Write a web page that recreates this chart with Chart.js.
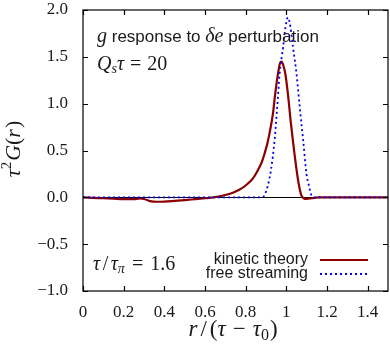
<!DOCTYPE html>
<html>
<head>
<meta charset="utf-8">
<script src="https://cdn.jsdelivr.net/npm/chart.js@4/dist/chart.umd.min.js"></script>
<style>
  html, body { margin: 0; padding: 0; background: #fff; }
  #wrap { width: 390px; height: 345px; }
</style>
</head>
<body>
<div id="wrap"><canvas id="chart" width="390" height="345"></canvas></div>
<script>
// kinetic theory curve
const kinX = [0, 0.05, 0.1, 0.15, 0.2, 0.25, 0.28, 0.3, 0.33, 0.36, 0.4, 0.45, 0.5, 0.55, 0.6, 0.643, 0.7, 0.743, 0.78, 0.81, 0.835, 0.86, 0.88, 0.892, 0.905, 0.917, 0.934, 0.945, 0.959, 0.97, 0.977, 0.985, 0.995, 1.008, 1.021, 1.038, 1.058, 1.074, 1.087, 1.099, 1.125, 1.157, 1.3, 1.5];
const kinY = [0, -0.005, -0.01, -0.015, -0.02, -0.02, -0.012, -0.018, -0.04, -0.047, -0.045, -0.038, -0.03, -0.02, -0.01, 0, 0.025, 0.055, 0.095, 0.145, 0.2, 0.29, 0.38, 0.46, 0.56, 0.68, 0.89, 1.1, 1.32, 1.44, 1.45, 1.41, 1.32, 1.1, 0.82, 0.5, 0.18, 0.02, -0.012, -0.017, -0.01, 0, 0, 0];

// free streaming curve
const freeX = [0, 0.2, 0.4, 0.6, 0.8, 0.88, 0.892, 0.909, 0.925, 0.942, 0.955, 0.967, 0.984, 0.996, 1.008, 1.02, 1.033, 1.05, 1.066, 1.083, 1.099, 1.111, 1.124, 1.14, 1.3, 1.5];
const freeY = [0, 0, 0, 0, 0, 0, 0.02, 0.125, 0.3, 0.605, 0.96, 1.32, 1.6, 1.82, 1.92, 1.82, 1.6, 1.32, 0.96, 0.605, 0.25, 0.125, 0.02, 0, 0, 0];

const xTicks = [0, 0.2, 0.4, 0.6, 0.8, 1, 1.2, 1.4];
const yTicks = [-1, -0.5, 0, 0.5, 1, 1.5, 2];

const SERIF = "'Liberation Serif', serif";
const SANS = "'Liberation Sans', sans-serif";
const TXT = '#1a1a1a';

function pts(xs, ys) {
  return xs.map((x, i) => ({ x: x, y: ys[i] }));
}

// draws a run of text pieces with their own fonts; {g: n} is a gap in px
function rich(ctx, parts, x, y, align) {
  let w = 0;
  parts.forEach(p => {
    if (p.g) { w += p.g; return; }
    ctx.font = p.f; w += ctx.measureText(p.t).width;
  });
  let cx = align === 'right' ? x - w : align === 'center' ? x - w / 2 : x;
  ctx.textAlign = 'left';
  ctx.textBaseline = 'alphabetic';
  parts.forEach(p => {
    if (p.g) { cx += p.g; return; }
    ctx.font = p.f;
    ctx.fillText(p.t, cx, y + (p.dy || 0));
    cx += ctx.measureText(p.t).width;
  });
}

const it = s => 'italic ' + s + 'px ' + SERIF;
const rm = s => s + 'px ' + SERIF;
const sf = s => s + 'px ' + SANS;

// keep tick label overflow from pushing the plot box in
function noPad(s) {
  s.paddingTop = 0; s.paddingBottom = 0; s.paddingLeft = 0; s.paddingRight = 0;
}

const decor = {
  id: 'decor',
  beforeDatasetsDraw(c) {
    const { ctx, chartArea: a, scales } = c;
    const y0 = scales.y.getPixelForValue(0);
    ctx.save();
    ctx.strokeStyle = '#000';
    ctx.lineWidth = 1;
    ctx.beginPath();
    ctx.moveTo(a.left, Math.round(y0) + 0.5);
    ctx.lineTo(a.right, Math.round(y0) + 0.5);
    ctx.stroke();
    ctx.restore();
  },
  afterDraw(c) {
    const { ctx, chartArea: a, scales } = c;
    ctx.save();
    ctx.strokeStyle = '#000';
    ctx.lineWidth = 1.2;
    ctx.strokeRect(a.left, a.top, a.right - a.left, a.bottom - a.top);
    const tl = 5;
    ctx.beginPath();
    xTicks.forEach(v => {
      const px = Math.round(scales.x.getPixelForValue(v)) + 0.5;
      ctx.moveTo(px, a.bottom); ctx.lineTo(px, a.bottom - tl);
      ctx.moveTo(px, a.top); ctx.lineTo(px, a.top + tl);
    });
    yTicks.forEach(v => {
      const py = Math.round(scales.y.getPixelForValue(v)) + 0.5;
      ctx.moveTo(a.left, py); ctx.lineTo(a.left + tl, py);
      ctx.moveTo(a.right, py); ctx.lineTo(a.right - tl, py);
    });
    ctx.stroke();

    ctx.fillStyle = TXT;
    // axis titles
    rich(ctx, [
      { t: 'r', f: it(23) }, { g: 3 }, { t: '/', f: rm(23) }, { g: 3 }, { t: '(', f: rm(23) }, { t: 'τ', f: it(23) },
      { g: 7 }, { t: '−', f: rm(23) }, { g: 7 }, { t: 'τ', f: it(23) }, { t: '0', f: rm(16), dy: 4 },
      { g: 1 }, { t: ')', f: rm(23) }
    ], 233, 336, 'center');

    ctx.save();
    ctx.translate(20, 149);
    ctx.rotate(-Math.PI / 2);
    rich(ctx, [
      { t: 'τ', f: it(22) }, { t: '2', f: rm(15), dy: -9 }, { g: 1 }, { t: 'G', f: it(22) },
      { t: '(', f: rm(22) }, { t: 'r', f: it(22) }, { g: 1 }, { t: ')', f: rm(22) }
    ], 0, 0, 'center');
    ctx.restore();

    // annotations
    rich(ctx, [
      { t: 'g', f: it(20) }, { t: ' response to ', f: sf(17) },
      { t: 'δe', f: it(20) }, { t: ' perturbation', f: sf(17) }
    ], 97, 42, 'left');
    rich(ctx, [
      { t: 'Q', f: it(20) }, { t: 's', f: it(14), dy: 3 }, { t: 'τ', f: it(20) },
      { g: 6 }, { t: '=', f: rm(20) }, { g: 6 }, { t: '20', f: rm(20) }
    ], 97, 70, 'left');
    rich(ctx, [
      { t: 'τ', f: it(20) }, { g: 2.5 }, { t: '/', f: rm(20) }, { g: 2.5 }, { t: 'τ', f: it(20) },
      { t: 'π', f: it(14), dy: 3 }, { g: 7 }, { t: '=', f: rm(20) }, { g: 7 }, { t: '1.6', f: rm(20) }
    ], 93, 270, 'left');

    // legend
    c.data.datasets.forEach((ds, i) => {
      const ly = 260 + i * 14.3;
      ctx.font = sf(16);
      ctx.textAlign = 'right';
      ctx.textBaseline = 'alphabetic';
      ctx.fillText(ds.label, 308, ly + 4);
      ctx.strokeStyle = ds.borderColor;
      ctx.lineWidth = ds.borderWidth;
      ctx.setLineDash(ds.borderDash || []);
      ctx.beginPath();
      ctx.moveTo(320, Math.round(ly));
      ctx.lineTo(368, Math.round(ly));
      ctx.stroke();
      ctx.setLineDash([]);
    });
    ctx.restore();
  }
};

new Chart(document.getElementById('chart'), {
  type: 'line',
  data: {
    datasets: [{
      label: 'kinetic theory',
      data: pts(kinX, kinY),
      borderColor: '#8b0000',
      borderWidth: 2.2,
      pointRadius: 0,
      cubicInterpolationMode: 'monotone',
      order: 1
    }, {
      label: 'free streaming',
      data: pts(freeX, freeY),
      borderColor: '#0000ee',
      borderWidth: 1.8,
      borderDash: [2, 3],
      pointRadius: 0,
      cubicInterpolationMode: 'monotone',
      order: 0
    }]
  },
  options: {
    responsive: false,
    animation: false,
    layout: { padding: { top: 10, right: 2, left: 0, bottom: 0 } },
    plugins: { legend: { display: false }, tooltip: { enabled: false } },
    scales: {
      x: {
        type: 'linear', min: 0, max: 1.5,
        grid: { display: false }, border: { display: false },
        afterFit: s => { s.height = 54; noPad(s); },
        afterBuildTicks: s => { s.ticks = xTicks.map(v => ({ value: v })); },
        ticks: {
          padding: 3, color: TXT, maxRotation: 0, autoSkip: false,
          font: { family: SERIF, size: 17 },
          callback: v => Number.isInteger(v) ? String(v) : v.toFixed(1)
        }
      },
      y: {
        min: -1, max: 2,
        grid: { display: false }, border: { display: false },
        afterFit: s => { s.width = 83; noPad(s); },
        afterBuildTicks: s => { s.ticks = yTicks.map(v => ({ value: v })); },
        ticks: {
          padding: 7, color: TXT,
          font: { family: SERIF, size: 17 },
          callback: v => v.toFixed(1).replace('-', '−')
        }
      }
    }
  },
  plugins: [decor]
});
</script>
</body>
</html>
